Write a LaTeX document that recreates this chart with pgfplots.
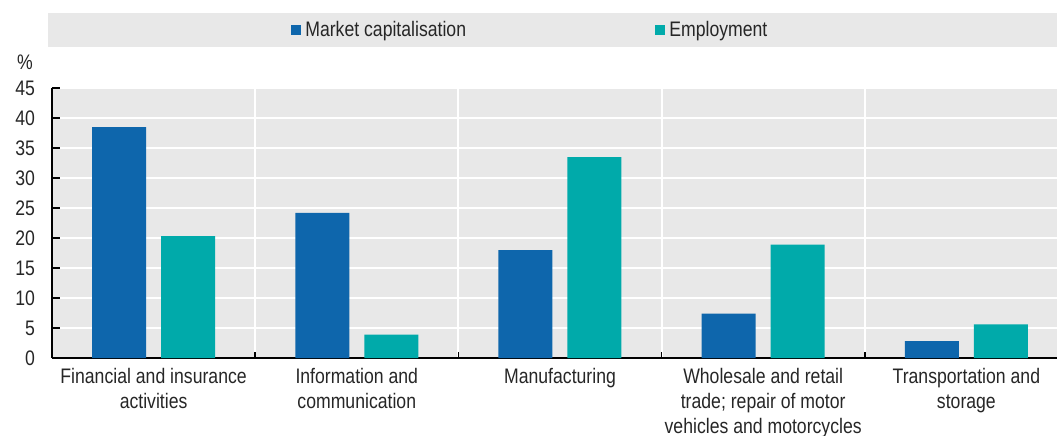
\documentclass[border=0pt]{standalone}
\usepackage{fontspec}
\setmainfont{Liberation Sans}[FakeStretch=0.84]
\usepackage{pgfplots}
\pgfplotsset{compat=1.18}
\definecolor{mcblue}{RGB}{14,102,172}
\definecolor{empteal}{RGB}{0,170,170}
\definecolor{bggray}{RGB}{232,232,232}
\begin{document}
\begin{tikzpicture}
\begin{axis}[
  scale only axis,
  width=508pt, height=135pt,
  xmin=-0.5, xmax=4.5, ymin=0, ymax=45,
  clip=false,
  axis x line*=bottom, axis y line*=left,
  axis line style={black, line width=0.9pt, -},
  axis background/.style={fill=bggray},
  ybar=7.5pt, bar width=27pt,
  xtick={0,1,2,3,4},
  xticklabels={Financial and insurance\\activities, Information and\\communication, Manufacturing, Wholesale and retail\\trade; repair of motor\\vehicles and motorcycles, Transportation and\\storage},
  major x tick style={draw=none},
  minor xtick={0.5,1.5,2.5,3.5},
  minor x tick style={black, line width=0.8pt},
  minor tick length=3pt,
  xminorgrids=true,
  minor x grid style={white, line width=1pt},
  ytick={0,5,...,45},
  ymajorgrids=true,
  major y grid style={white, line width=1pt},
  major y tick style={black, line width=0.8pt},
  major tick length=4pt,
  tick align=inside,
  /pgf/number format/assume math mode=true,
  ticklabel style={font=\fontsize{10.5}{12.5}\selectfont, text=black!85},
  xticklabel style={align=center, yshift=-1.5pt},
  yticklabel style={xshift=-5pt},
  legend style={at={(rel axis cs:0.2285,1.2148)}, anchor=west, draw=none, fill=none,
    legend columns=-1, font=\fontsize{10.5}{12}\selectfont, text=black!85,
    nodes={inner sep=1.2pt}},
  legend image code/.code={\fill[#1] (0pt,-2.6pt) rectangle (5.2pt,2.6pt);},
]
\fill[bggray] (rel axis cs:-0.004,1.152) rectangle (rel axis cs:1,1.278);
\node[font=\fontsize{10.5}{12}\selectfont, text=black!85] at (rel axis cs:-0.0266,1.096) {\%};
\addplot[fill=mcblue, draw=none] coordinates {(0,38.5) (1,24.2) (2,18.0) (3,7.4) (4,2.8)};
\addplot[fill=empteal, draw=none] coordinates {(0,20.3) (1,3.9) (2,33.5) (3,18.9) (4,5.6)};
\legend{\hspace*{1pt}Market capitalisation\hspace*{93pt}, \hspace*{1pt}Employment}
\end{axis}
\pgfresetboundingbox
\useasboundingbox (-26pt,-38.5pt) rectangle (502.5pt,179pt);
\end{tikzpicture}
\end{document}
